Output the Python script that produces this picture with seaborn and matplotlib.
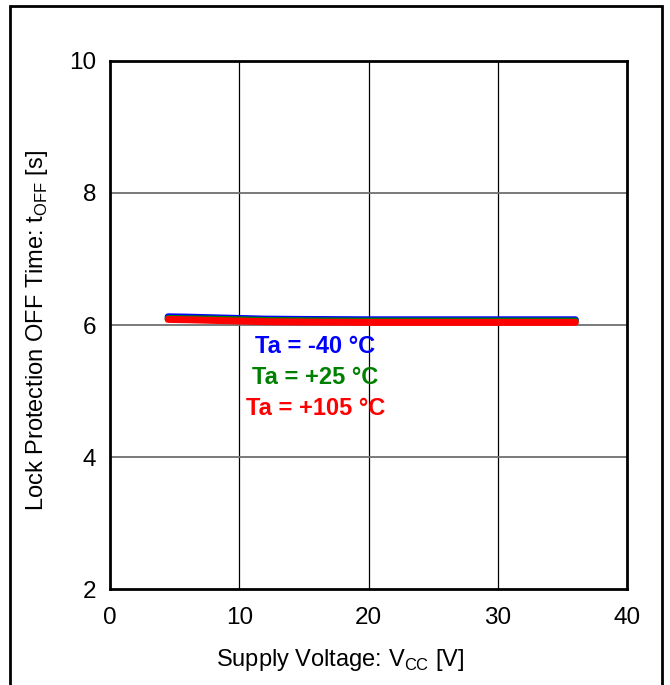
import matplotlib
matplotlib.use("Agg")
import matplotlib.pyplot as plt
import matplotlib.patches as mpatches
import numpy as np
import pandas as pd
import seaborn as sns

sns.set_theme(style="white")
plt.rcParams["font.family"] = ["Liberation Sans", "DejaVu Sans"]
plt.rcParams["mathtext.fontset"] = "custom"
plt.rcParams["mathtext.rm"] = "Liberation Sans"

# Supply voltage sweep [V]
vcc = [4.5, 6, 8, 10, 12, 15, 20, 25, 30, 36]
# Lock protection OFF time [s] per ambient temperature
toff_m40 = [6.125, 6.12, 6.11, 6.10, 6.09, 6.085, 6.08, 6.08, 6.08, 6.08]
toff_p25 = [6.10, 6.095, 6.09, 6.08, 6.07, 6.065, 6.06, 6.06, 6.06, 6.06]
toff_p105 = [6.085, 6.08, 6.07, 6.06, 6.05, 6.045, 6.04, 6.04, 6.04, 6.04]

series_labels = ["Ta = -40 °C", "Ta = +25 °C", "Ta = +105 °C"]
series_colors = ["#0000FF", "#008000", "#FF0000"]

x_ticks = [0, 10, 20, 30, 40]
y_ticks = [2, 4, 6, 8, 10]

df = pd.DataFrame({
    "vcc": vcc * 3,
    "toff": toff_m40 + toff_p25 + toff_p105,
    "temp": [series_labels[0]] * len(vcc) + [series_labels[1]] * len(vcc) + [series_labels[2]] * len(vcc),
})

fig = plt.figure(figsize=(6.7, 6.85), dpi=100)
ax = fig.add_axes([0.164, 0.140, 0.772, 0.771])

sns.lineplot(data=df, x="vcc", y="toff", hue="temp", hue_order=series_labels,
             palette=series_colors, linewidth=5, legend=False, ax=ax,
             solid_capstyle="round", zorder=3)

ax.set_xlim(0, 40)
ax.set_ylim(2, 10)
ax.set_xticks(x_ticks)
ax.set_yticks(y_ticks)
ax.tick_params(axis="both", labelsize=17.5, length=0, colors="black")
ax.tick_params(axis="x", pad=13)
ax.tick_params(axis="y", pad=10)

# grid: black verticals, gray horizontals
for xv in x_ticks[1:-1]:
    ax.axvline(xv, color="black", lw=0.9, zorder=1)
for yv in y_ticks[1:-1]:
    ax.axhline(yv, color="#707070", lw=1.3, zorder=1)

for sp in ax.spines.values():
    sp.set_color("black")
    sp.set_linewidth(2)

ax.set_xlabel("Supply Voltage: V$_{\\mathregular{CC}}$ [V]", fontsize=17, color="black")
ax.set_ylabel("Lock Protection OFF Time: t$_{\\mathregular{OFF}}$ [s]", fontsize=17, color="black")
ax.xaxis.set_label_coords(0.445, -0.134)
ax.yaxis.set_label_coords(-0.141, 0.49)
ax.xaxis.label.set_va("center")
ax.yaxis.label.set_va("center")

text_y = [5.68, 5.20, 4.73]
for lbl, col, ty in zip(series_labels, series_colors, text_y):
    ax.text(15.9, ty, lbl, color=col, fontsize=17, fontweight="bold",
            ha="center", va="center", zorder=4)

# outer frame around the whole chart
frame = mpatches.Rectangle((10 / 670, -0.02), 652 / 670, 1 - 6 / 685 + 0.02,
                           transform=fig.transFigure, fill=False,
                           edgecolor="black", lw=2, clip_on=False)
fig.patches.append(frame)

fig.savefig("out.png", dpi=100)
